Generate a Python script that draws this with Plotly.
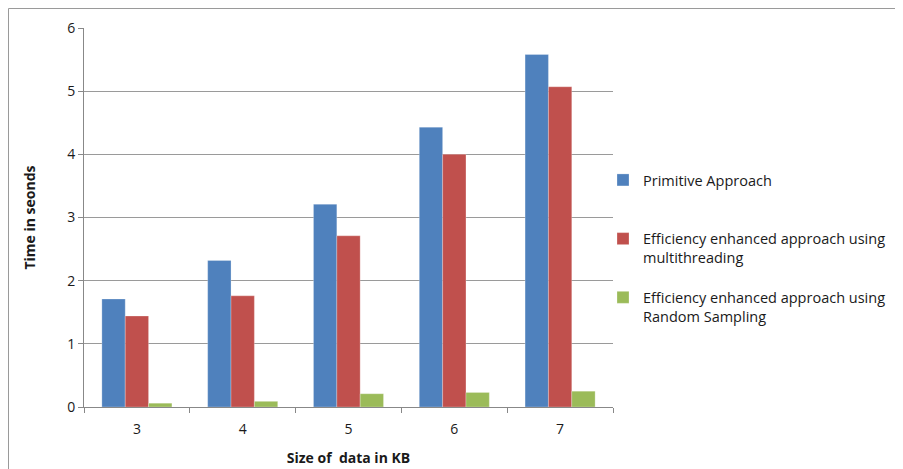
import plotly.graph_objects as go

categories = ["3", "4", "5", "6", "7"]
primitive = [1.71, 2.32, 3.21, 4.43, 5.58]
multithreading = [1.44, 1.76, 2.71, 4.00, 5.07]
random_sampling = [0.06, 0.09, 0.21, 0.23, 0.25]

series_names = [
    "Primitive Approach<br> ",
    "Efficiency enhanced approach using<br>multithreading",
    "Efficiency enhanced approach using<br>Random Sampling",
]
colors = ["#4F81BD", "#C0504D", "#9BBB59"]

# page body has an 8px offset
OFF = 8
W, H = 903 - OFF, 469 - OFF
L, R, T, B = 84 - OFF, 613 - OFF, 28 - OFF, 407 - OFF

fig = go.Figure()
for name, vals, col, grp in zip(series_names, [primitive, multithreading, random_sampling], colors, ["a", "b", "c"]):
    fig.add_trace(go.Bar(x=categories, y=vals, name=name, legendgroup=grp,
                         marker=dict(color=col, line=dict(color="rgba(255,255,255,0.5)", width=0.5))))

font_family = "Open Sans, Liberation Sans, sans-serif"
txt = "#1a1a1a"

px_to_px = lambda v: (v - L) / (R - L)
py_to_py = lambda v: 1 - (v - T) / (B - T)

fig.update_layout(
    width=W, height=H,
    margin=dict(l=L, r=W - R, t=T, b=H - B, autoexpand=False),
    paper_bgcolor="white", plot_bgcolor="white",
    barmode="group", bargap=0.338, bargroupgap=0,
    font=dict(family=font_family, size=14, color=txt),
    showlegend=True,
    legend=dict(x=px_to_px(603 - OFF), y=py_to_py(164 - OFF), xanchor="left", yanchor="top",
                valign="top", tracegroupgap=18, itemwidth=30,
                font=dict(family=font_family, size=14.5, color=txt),
                bgcolor="rgba(0,0,0,0)"),
    xaxis=dict(type="category", showgrid=False, showline=True, linecolor="#888888", linewidth=1,
               ticks="outside", tickson="boundaries", ticklen=5, tickcolor="#888888",
               ticklabelstandoff=9, automargin=False,
               tickfont=dict(size=14, color=txt),
               title=dict(text="<b>Size of  data in KB</b>", font=dict(size=14, color=txt), standoff=16)),
    yaxis=dict(range=[0, 6], dtick=1, showgrid=True, gridcolor="#9a9a9a", gridwidth=1.3,
               showline=True, linecolor="#888888", linewidth=1, zeroline=False,
               ticks="outside", ticklen=5, tickcolor="#888888", automargin=False,
               tickfont=dict(size=14, color=txt),
               title=dict(text="<b>Time in seonds</b>", font=dict(size=14, color=txt), standoff=28)),
    shapes=[
        dict(type="line", xref="paper", yref="paper",
             x0=px_to_px(0.5), x1=px_to_px(W), y0=py_to_py(0.5), y1=py_to_py(0.5),
             line=dict(color="#9a9a9a", width=1)),
        dict(type="line", xref="paper", yref="paper",
             x0=px_to_px(0.5), x1=px_to_px(0.5), y0=py_to_py(0.5), y1=py_to_py(H),
             line=dict(color="#9a9a9a", width=1)),
    ],
)

fig.write_html("out.html")
